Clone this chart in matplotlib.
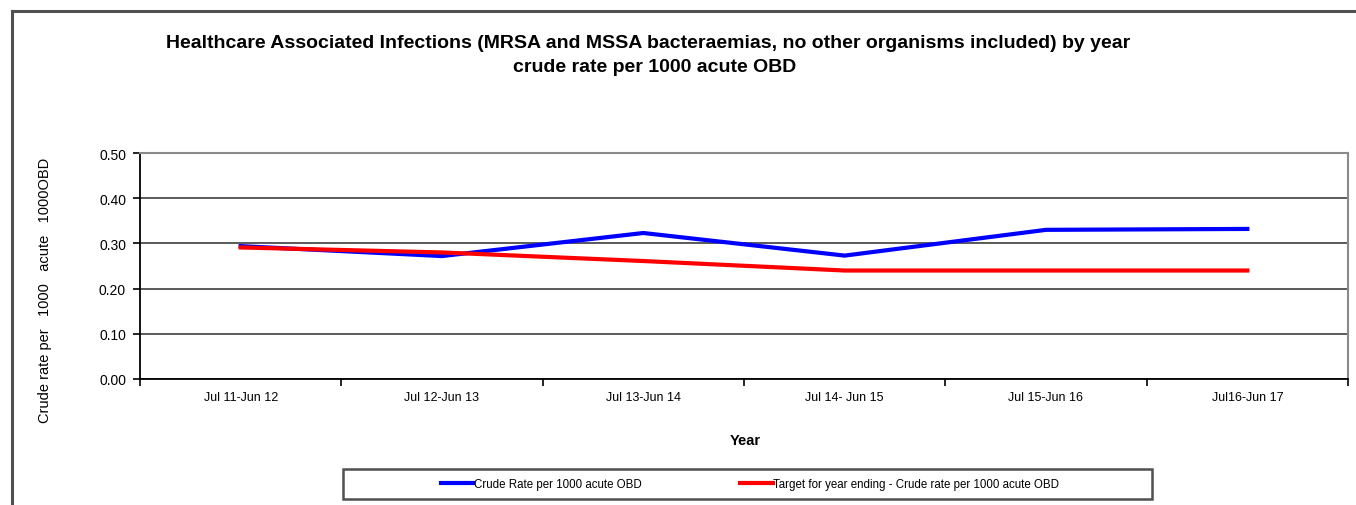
import matplotlib.pyplot as plt
from matplotlib.lines import Line2D
from matplotlib.patches import Rectangle

plt.rcParams['font.family'] = ['Liberation Sans', 'DejaVu Sans']

# data
years = ['Jul 11-Jun 12', 'Jul 12-Jun 13', 'Jul 13-Jun 14',
         'Jul 14- Jun 15', 'Jul 15-Jun 16', 'Jul16-Jun 17']
crude_rate = [0.294, 0.272, 0.323, 0.273, 0.330, 0.332]
target_rate = [0.291, 0.280, 0.261, 0.240, 0.240, 0.240]
y_ticks = [0.0, 0.1, 0.2, 0.3, 0.4, 0.5]

W, H = 1356, 506
fig = plt.figure(figsize=(W / 100, H / 100), dpi=100)

# outer chart border (cut off at right / bottom like the screenshot)
fig.add_artist(Line2D([12 / W, 1.0], [1 - 12 / H, 1 - 12 / H], color='#505050', lw=2.2,
                      transform=fig.transFigure))
fig.add_artist(Line2D([12 / W, 12 / W], [0.0, 1 - 12 / H], color='#505050', lw=2.2,
                      transform=fig.transFigure))

ax = fig.add_axes([140 / W, 1 - 380 / H, (1348 - 140) / W, (380 - 154) / H])
x = list(range(len(years)))

ax.plot(x, crude_rate, color='#0000FF', lw=3, solid_joinstyle='miter',
        label='Crude Rate per 1000 acute OBD', zorder=3)
ax.plot(x, target_rate, color='#FF0000', lw=3, solid_joinstyle='miter',
        label='Target for year ending - Crude rate per 1000 acute OBD', zorder=3)

ax.set_xlim(-0.5, len(years) - 0.5)
ax.set_ylim(0, 0.5)
ax.set_yticks(y_ticks)
ax.set_yticklabels([f'{v:.2f}' for v in y_ticks], fontsize=10)
ax.yaxis.grid(True, color='#4d4d4d', lw=1.3)
ax.set_axisbelow(True)

ax.set_xticks(x)
ax.set_xticklabels(years, fontsize=9)
ax.set_xticks([i - 0.5 for i in range(len(years) + 1)], minor=True)
ax.tick_params(axis='x', which='major', length=0, pad=9)
ax.tick_params(axis='x', which='minor', length=5, direction='out', width=1.2)
ax.tick_params(axis='y', length=5, direction='out', width=1.2, pad=5)

for s in ['left', 'bottom']:
    ax.spines[s].set_color('black')
    ax.spines[s].set_linewidth(1.3)
for s in ['top', 'right']:
    ax.spines[s].set_color('#8a8a8a')
    ax.spines[s].set_linewidth(1.5)

fig.text(648 / W, 1 - 44 / H,
         'Healthcare Associated Infections (MRSA and MSSA bacteraemias, no other organisms included) by year',
         ha='center', va='center', fontsize=14, fontweight='bold')
fig.text(655 / W, 1 - 68 / H, 'crude rate per 1000 acute OBD',
         ha='center', va='center', fontsize=14, fontweight='bold')

fig.text(45 / W, 1 - 290 / H, 'Crude rate per   1000   acute   1000OBD', rotation=90,
         ha='center', va='center', fontsize=10.5)
fig.text(745 / W, 1 - 441 / H, 'Year', ha='center', va='center', fontsize=10.5,
         fontweight='bold')

# legend box
fig.add_artist(Rectangle((343 / W, 1 - 500 / H), (1152 - 343) / W, 30 / H,
                         transform=fig.transFigure, fill=False, edgecolor='#505050', lw=1.8))
fig.legend(loc='center', bbox_to_anchor=(750 / W, 1 - 485 / H), ncol=2, frameon=False,
           fontsize=8.3, handlelength=2.8, handletextpad=0.05, columnspacing=8.6)

fig.savefig('out.png', dpi=100)
